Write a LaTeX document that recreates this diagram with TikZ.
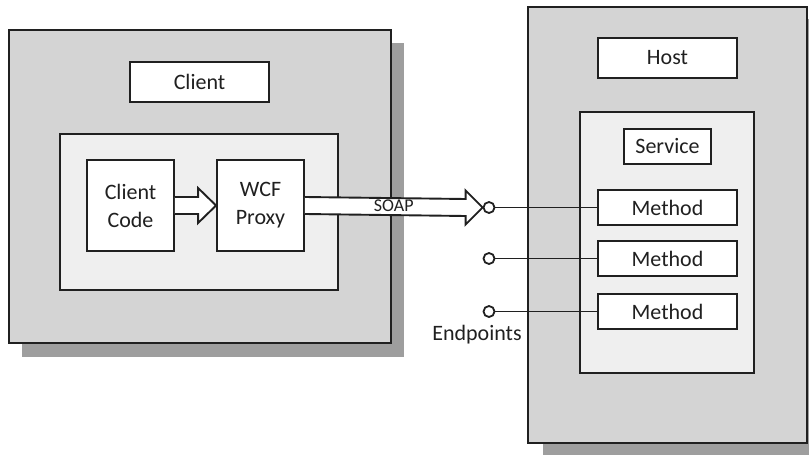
\documentclass[tikz,border=0pt]{standalone}
\usepackage{fontspec}
\setmainfont{Carlito}
\usetikzlibrary{calc}
\definecolor{panelgray}{HTML}{D4D4D4}
\definecolor{shadowgray}{HTML}{9E9E9E}
\definecolor{areagray}{HTML}{EFEFEF}
\definecolor{ink}{HTML}{202020}
\tikzset{
    every picture/.style={line join=miter},
    panel/.style={draw=ink,fill=panelgray,line width=1.9pt,inner sep=0pt},
    dropshadow/.style={fill=shadowgray,draw=none,inner sep=0pt,outer sep=0pt},
    area/.style={draw=ink,fill=areagray,line width=1.9pt,inner sep=0pt},
    whitebox/.style={draw=ink,fill=white,line width=1.9pt,inner sep=0pt,
      align=center,text=ink,font=\fontsize{22}{28}\selectfont},
    endpoint/.style={circle,draw=ink,fill=white,line width=1.8pt,
      minimum size=11pt,inner sep=0pt},
    wire/.style={draw=ink,line width=1.5pt},
    blockarrow/.style={draw=ink,fill=white,line width=1.9pt},
    plainlabel/.style={text=ink,inner sep=0pt,font=\fontsize{22}{28}\selectfont},
    arrowlabel/.style={text=ink,inner sep=0pt,font=\fontsize{18}{22}\selectfont}
}

\begin{document}
\begin{tikzpicture}[x=1pt,y=-1pt]
  \useasboundingbox (0,0) rectangle (809,455);
  % client side
  \node[dropshadow,minimum width=382pt,minimum height=314pt] (clientshadow) at (213,200) {};
  \node[panel,minimum width=382pt,minimum height=313pt] (client) at (200,186.5) {};
  \node[whitebox,minimum width=139pt,minimum height=40pt] (clientlabel) at (199.5,82) {Client};
  \node[area,minimum width=278pt,minimum height=156pt] (clientarea) at (199,212) {};
  \node[whitebox,minimum width=87pt,minimum height=91pt] (code) at (130.5,205.5) {Client\\Code};
  \node[whitebox,minimum width=87pt,minimum height=91pt] (proxy) at (260.5,205.5) {WCF\\Proxy};
  \draw[blockarrow] ($(code.east)+(0,-8.5)$) -- ($(proxy.west)+(-18,-8.5)$)
    -- ($(proxy.west)+(-18,-17.5)$) -- (proxy.west) -- ($(proxy.west)+(-18,17.5)$)
    -- ($(proxy.west)+(-18,8.5)$) -- ($(code.east)+(0,8.5)$);
  % host side
  \node[dropshadow,minimum width=266pt,minimum height=436pt] (hostshadow) at (676,237) {};
  \node[panel,minimum width=279pt,minimum height=436pt] (host) at (667.5,225) {};
  \node[whitebox,minimum width=139pt,minimum height=40pt] (hostlabel) at (667.5,58) {Host};
  \node[area,minimum width=174pt,minimum height=261pt] (servicearea) at (667,242.5) {};
  \node[whitebox,minimum width=87pt,minimum height=35pt] (service) at (667.5,146.5) {Service};
  \foreach \i/\y in {1/207.5,2/258.5,3/311.5}{
    \node[whitebox,minimum width=139pt,minimum height=35pt] (method\i) at (667.5,\y) {Method};
    \node[endpoint] (ep\i) at (489,\y) {};
    \draw[wire] (ep\i.east) -- (method\i.west);
  }
  \node[plainlabel] (eplabel) at (477,335) {Endpoints};
  % soap call
  \draw[blockarrow] ($(proxy.east)+(0,-8.5)$) -- ($(ep1.west)+(-17,-8.5)$)
    -- ($(ep1.west)+(-17,-17)$) -- (ep1.west) -- ($(ep1.west)+(-17,17)$)
    -- ($(ep1.west)+(-17,8.5)$) -- ($(proxy.east)+(0,8.5)$);
  \node[arrowlabel] (soap) at ($(proxy.east)!0.5!(ep1.west)+(0,-0.5)$) {SOAP};
\end{tikzpicture}
\end{document}
